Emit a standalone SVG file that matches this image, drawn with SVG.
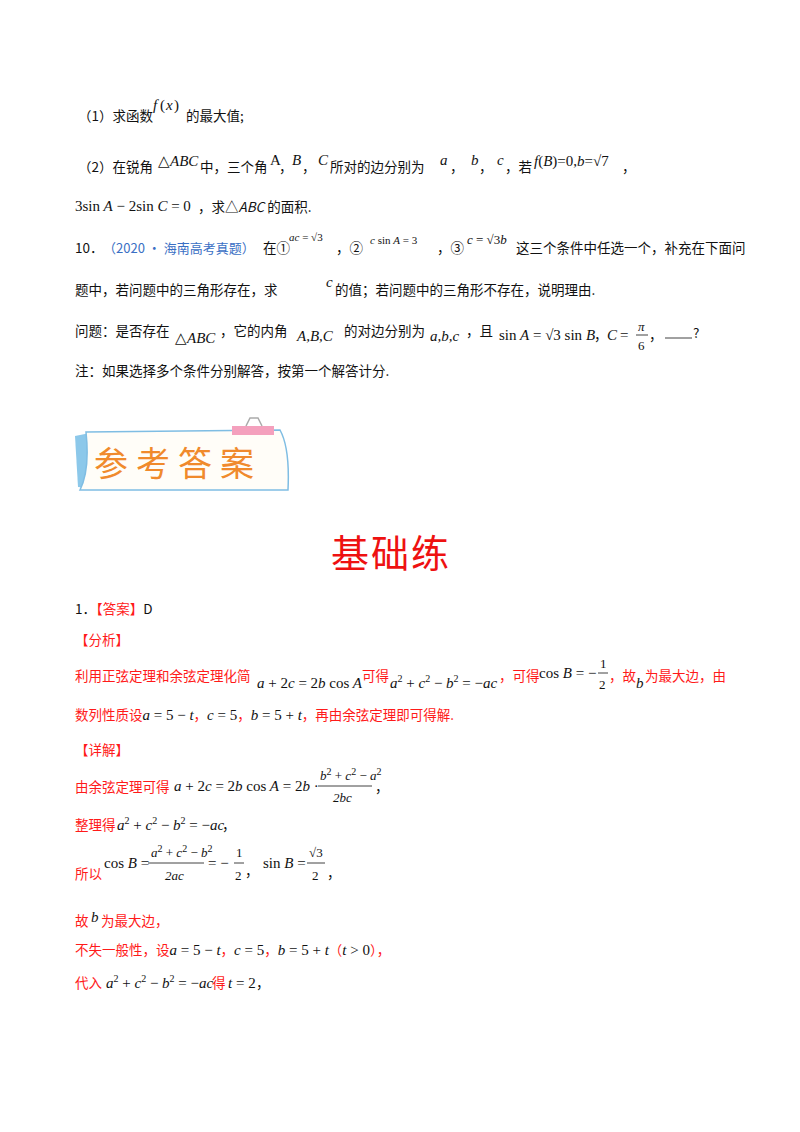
<svg xmlns="http://www.w3.org/2000/svg" width="800" height="1132" viewBox="0 0 800 1132">
<style>
.t{font-family:"Noto Sans CJK SC","Liberation Serif",serif;font-size:13.5px;fill:#111}
.r{fill:#ff1a1a}
.b{fill:#3a6fc4}
.m{font-family:"Liberation Serif",serif;font-size:15px;fill:#111}
.i{font-style:italic}
.s{font-size:10px}
</style>
<rect width="800" height="1132" fill="#fff"/>
<text class="t" x="78" y="121">（1）求函数</text>
<text class="m i" x="153" y="110">f</text><text class="m" x="160" y="110">(</text><text class="m i" x="166" y="110">x</text><text class="m" x="174" y="110">)</text>
<text class="t" x="186" y="121">的最大值;</text>
<text class="t" x="78" y="172">（2）在锐角</text>
<text class="m" x="158" y="166">△<tspan class="i">ABC</tspan></text>
<text class="t" x="200" y="172">中，三个角</text>
<text class="m" x="270" y="165">A</text><text class="t" x="279" y="172">，</text>
<text class="m i" x="292" y="165">B</text><text class="t" x="302" y="172">，</text>
<text class="m i" x="318" y="165">C</text>
<text class="t" x="330" y="172">所对的边分别为</text>
<text class="m i" x="440" y="165">a</text><text class="t" x="450" y="172">，</text>
<text class="m i" x="471" y="165">b</text><text class="t" x="479" y="172">，</text>
<text class="m i" x="497" y="165">c</text><text class="t" x="505" y="172">，若</text>
<text class="m" x="534" y="166"><tspan class="i">f</tspan>(<tspan class="i">B</tspan>)=0,<tspan class="i">b</tspan>=√7</text>
<text class="t" x="622" y="172">，</text>
<text class="m" x="75" y="211">3sin<tspan class="i"> A</tspan> − 2sin<tspan class="i"> C</tspan> = 0</text>
<text class="t" x="198" y="212">，求△<tspan class="i">ABC</tspan> 的面积.</text>
<text class="t" x="75" y="253">10．</text>
<text class="t b" x="103" y="253" style="font-size:13px">（2020 • 海南高考真题）</text>
<text class="t" x="263" y="253">在①</text>
<text class="m s" x="289" y="241" style="font-size:11px"><tspan class="i">ac</tspan> = √3</text>
<text class="t" x="336" y="253">，②</text>
<text class="m" x="370" y="244" style="font-size:11px"><tspan class="i">c</tspan> sin <tspan class="i">A</tspan> = 3</text>
<text class="t" x="437" y="253">，③</text>
<text class="m" x="467" y="244" style="font-size:13px"><tspan class="i">c</tspan> = √3<tspan class="i">b</tspan></text>
<text class="t" x="516" y="253">这三个条件中任选一个，补充在下面问</text>
<text class="t" x="75" y="295">题中，若问题中的三角形存在，求</text>
<text class="m i" x="326" y="287">c</text>
<text class="t" x="335" y="295">的值；若问题中的三角形不存在，说明理由.</text>
<text class="t" x="75" y="336">问题：是否存在</text>
<text class="m" x="175" y="343">△<tspan class="i">ABC</tspan></text>
<text class="t" x="220" y="336">，它的内角</text>
<text class="m i" x="297" y="341">A,B,C</text>
<text class="t" x="344" y="336">的对边分别为</text>
<text class="m i" x="430" y="341">a,b,c</text>
<text class="t" x="466" y="336">，且</text>
<text class="m" x="499" y="340">sin<tspan class="i"> A</tspan> = √3 sin<tspan class="i"> B</tspan></text>
<text class="t" x="594" y="340">，</text>
<text class="m i" x="607" y="340">C</text><text class="m" x="620" y="340">=</text>
<text class="m i" x="638" y="331" style="font-size:13px">π</text>
<line x1="636" y1="335" x2="648" y2="335" stroke="#111" stroke-width="0.8"/>
<text class="m" x="638" y="350" style="font-size:13px">6</text>
<text class="t" x="649" y="340">，</text>
<line x1="665" y1="338" x2="692" y2="338" stroke="#111" stroke-width="0.8"/>
<text class="t" x="693" y="338">?</text>
<text class="t" x="75" y="376">注：如果选择多个条件分别解答，按第一个解答计分.</text>

<g id="banner">
<polygon points="75,436 90,433 88,488 78,487" fill="#8cc8ea"/>
<path d="M86,432 L280,430 Q290,448 288,490 L80,490 Q90,470 86,432 Z" fill="#fffdf8" stroke="#7fbde3" stroke-width="1.5"/>
<rect x="232" y="426" width="42" height="9" fill="#f4a0bd"/>
<path d="M246,426 L250,418 L258,418 L262,426" fill="none" stroke="#aaa" stroke-width="1.5"/>
<text x="94" y="476" style="font-family:'Noto Sans CJK SC',sans-serif;font-size:34px;fill:#f08a2c;letter-spacing:8px">参考答案</text>
</g>
<text x="331" y="567" style="font-family:'Noto Sans CJK SC',sans-serif;font-size:38px;fill:#ee1111;letter-spacing:2px">基础练</text>

<text class="t" x="75" y="614">1．<tspan class="r">【答案】</tspan>D</text>
<text class="t r" x="75" y="645">【分析】</text>
<text class="t r" x="75" y="681">利用正弦定理和余弦定理化简</text>
<text class="m" x="257" y="688"><tspan class="i">a</tspan> + 2<tspan class="i">c</tspan> = 2<tspan class="i">b</tspan> cos<tspan class="i"> A</tspan></text>
<text class="t r" x="362" y="681">可得</text>
<text class="m" x="390" y="688"><tspan class="i">a</tspan><tspan class="s" dy="-6">2</tspan><tspan dy="6"> + </tspan><tspan class="i">c</tspan><tspan class="s" dy="-6">2</tspan><tspan dy="6"> − </tspan><tspan class="i">b</tspan><tspan class="s" dy="-6">2</tspan><tspan dy="6"> = −</tspan><tspan class="i">ac</tspan></text>
<text class="t r" x="499" y="681">，可得</text>
<text class="m" x="539" y="678">cos<tspan class="i"> B</tspan> = −</text>
<text class="m" x="600" y="668" style="font-size:13px">1</text>
<line x1="598" y1="673" x2="608" y2="673" stroke="#111" stroke-width="0.8"/>
<text class="m" x="599" y="689" style="font-size:13px">2</text>
<text class="t r" x="609" y="681">，故</text>
<text class="m i" x="636" y="688">b</text>
<text class="t r" x="645" y="681">为最大边，由</text>
<text class="t r" x="75" y="720">数列性质设<tspan class="m i" style="fill:#111">a</tspan><tspan class="m" style="fill:#111"> = 5 − </tspan><tspan class="m i" style="fill:#111">t</tspan>，<tspan class="m i" style="fill:#111">c</tspan><tspan class="m" style="fill:#111"> = 5</tspan>，<tspan class="m i" style="fill:#111">b</tspan><tspan class="m" style="fill:#111"> = 5 + </tspan><tspan class="m i" style="fill:#111">t</tspan>，再由余弦定理即可得解.</text>
<text class="t r" x="75" y="755">【详解】</text>
<text class="t r" x="75" y="792">由余弦定理可得</text>
<text class="m" x="174" y="791"><tspan class="i">a</tspan> + 2<tspan class="i">c</tspan> = 2<tspan class="i">b</tspan> cos<tspan class="i"> A</tspan> = 2<tspan class="i">b</tspan> ·</text>
<text class="m" x="320" y="780" style="font-size:13px"><tspan class="i">b</tspan><tspan class="s" dy="-5">2</tspan><tspan dy="5"> + </tspan><tspan class="i">c</tspan><tspan class="s" dy="-5">2</tspan><tspan dy="5"> − </tspan><tspan class="i">a</tspan><tspan class="s" dy="-5">2</tspan></text>
<line x1="318" y1="786" x2="372" y2="786" stroke="#111" stroke-width="0.8"/>
<text class="m i" x="333" y="802" style="font-size:13px">2bc</text>
<text class="t" x="375" y="792">，</text>
<text class="t r" x="75" y="830">整理得</text>
<text class="m" x="117" y="830"><tspan class="i">a</tspan><tspan class="s" dy="-6">2</tspan><tspan dy="6"> + </tspan><tspan class="i">c</tspan><tspan class="s" dy="-6">2</tspan><tspan dy="6"> − </tspan><tspan class="i">b</tspan><tspan class="s" dy="-6">2</tspan><tspan dy="6"> = −</tspan><tspan class="i">ac</tspan></text>
<text class="t" x="222" y="830">，</text>
<text class="t r" x="75" y="879">所以</text>
<text class="m" x="104" y="868">cos<tspan class="i"> B</tspan> =</text>
<text class="m" x="151" y="857" style="font-size:13px"><tspan class="i">a</tspan><tspan class="s" dy="-5">2</tspan><tspan dy="5"> + </tspan><tspan class="i">c</tspan><tspan class="s" dy="-5">2</tspan><tspan dy="5"> − </tspan><tspan class="i">b</tspan><tspan class="s" dy="-5">2</tspan></text>
<line x1="148" y1="863" x2="204" y2="863" stroke="#111" stroke-width="0.8"/>
<text class="m i" x="165" y="880" style="font-size:13px">2ac</text>
<text class="m" x="208" y="868">= −</text>
<text class="m" x="236" y="857" style="font-size:13px">1</text>
<line x1="234" y1="863" x2="244" y2="863" stroke="#111" stroke-width="0.8"/>
<text class="m" x="235" y="880" style="font-size:13px">2</text>
<text class="t" x="245" y="876">，</text>
<text class="m" x="263" y="868">sin<tspan class="i"> B</tspan> =</text>
<text class="m" x="309" y="857" style="font-size:13px">√3</text>
<line x1="307" y1="863" x2="325" y2="863" stroke="#111" stroke-width="0.8"/>
<text class="m" x="312" y="880" style="font-size:13px">2</text>
<text class="t" x="327" y="878">，</text>
<text class="t r" x="75" y="926">故</text>
<text class="m i" x="91" y="922">b</text>
<text class="t r" x="101" y="926">为最大边，</text>
<text class="t r" x="75" y="955">不失一般性，设<tspan class="m i" style="fill:#111">a</tspan><tspan class="m" style="fill:#111"> = 5 − </tspan><tspan class="m i" style="fill:#111">t</tspan>，<tspan class="m i" style="fill:#111">c</tspan><tspan class="m" style="fill:#111"> = 5</tspan>，<tspan class="m i" style="fill:#111">b</tspan><tspan class="m" style="fill:#111"> = 5 + </tspan><tspan class="m i" style="fill:#111">t</tspan>（<tspan class="m i" style="fill:#111">t</tspan><tspan class="m" style="fill:#111"> &gt; 0</tspan>），</text>
<text class="t r" x="75" y="988">代入</text>
<text class="m" x="106" y="988"><tspan class="i">a</tspan><tspan class="s" dy="-6">2</tspan><tspan dy="6"> + </tspan><tspan class="i">c</tspan><tspan class="s" dy="-6">2</tspan><tspan dy="6"> − </tspan><tspan class="i">b</tspan><tspan class="s" dy="-6">2</tspan><tspan dy="6"> = −</tspan><tspan class="i">ac</tspan></text>
<text class="t r" x="212" y="988">得</text>
<text class="m" x="228" y="988"><tspan class="i">t</tspan> = 2</text>
<text class="t" x="256" y="988">，</text>
</svg>
